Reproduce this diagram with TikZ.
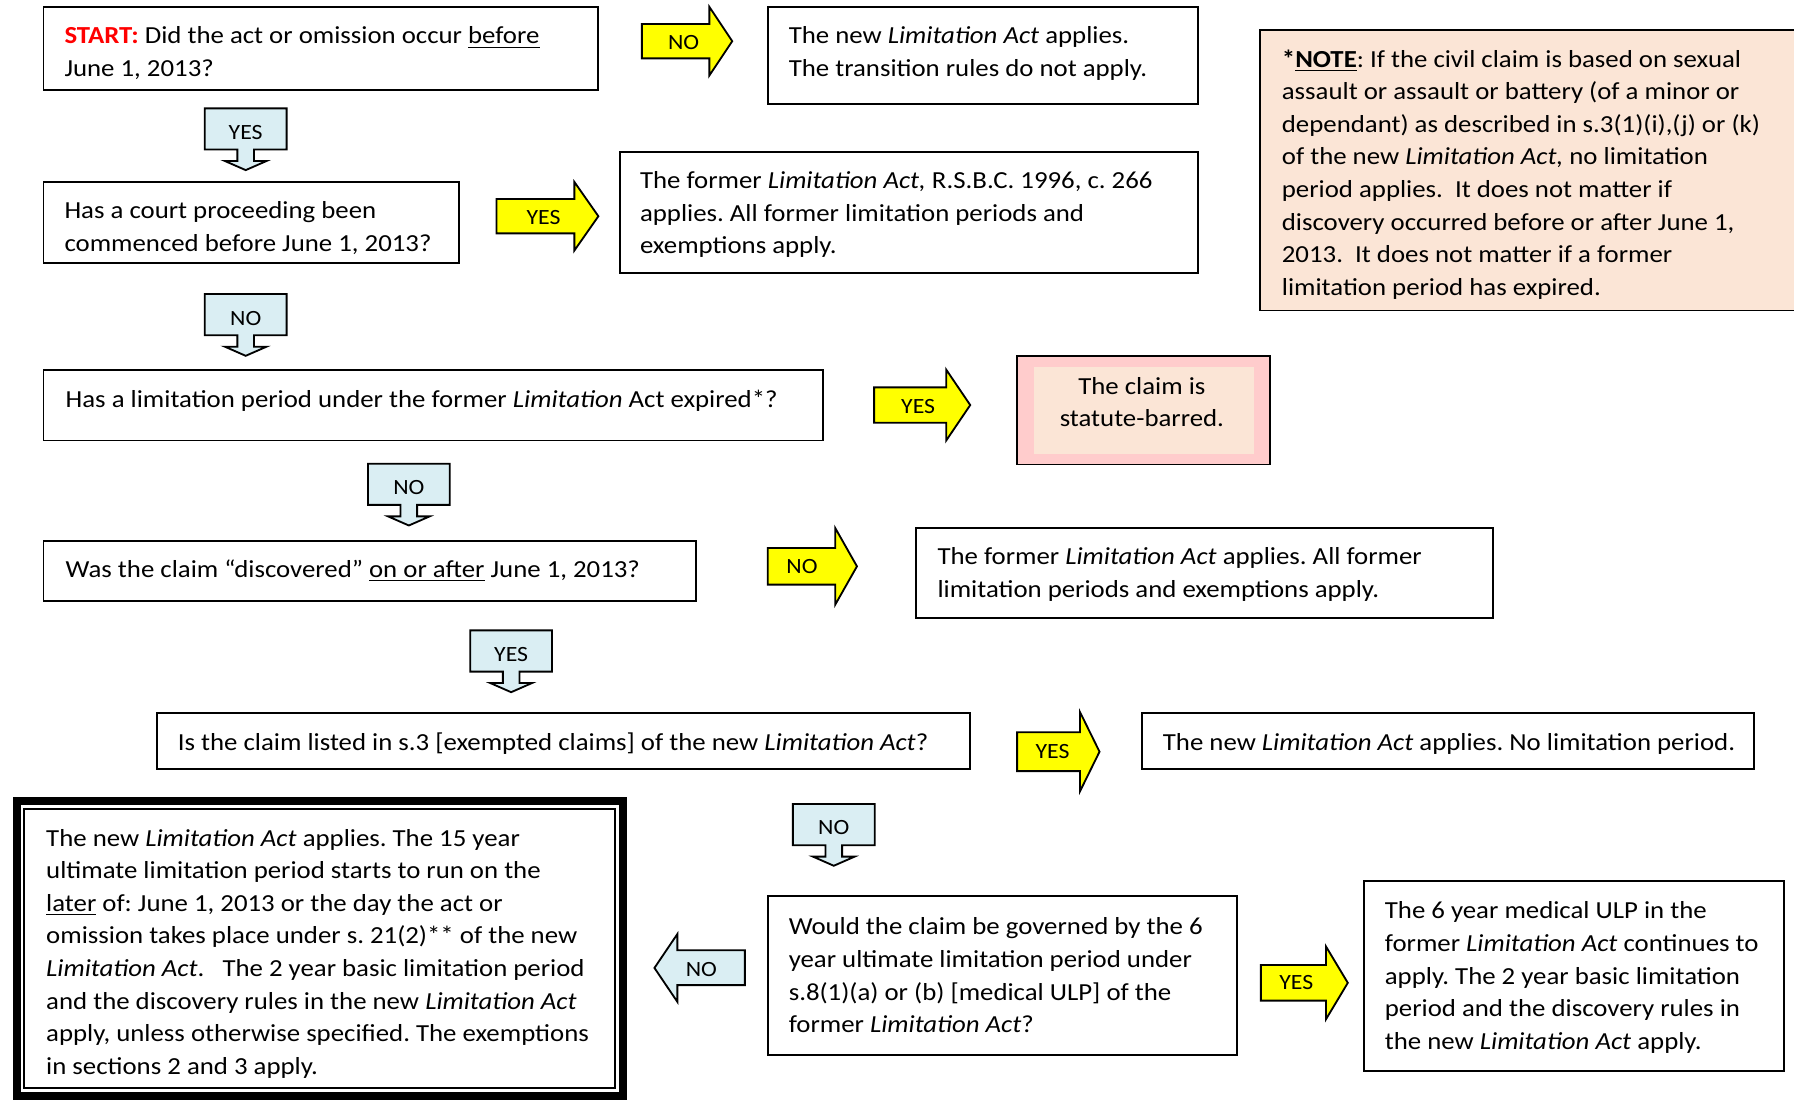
\documentclass[tikz,border=0pt]{standalone}
\usepackage{fontspec}
\setmainfont{Carlito}[FakeStretch=1.095]
\usetikzlibrary{positioning}
\definecolor{yel}{HTML}{FFFF00}
\definecolor{lblue}{HTML}{DAEEF3}
\definecolor{peach}{HTML}{FBE5D6}
\definecolor{pinkb}{HTML}{FFCCCC}
\definecolor{startred}{HTML}{FF0000}
\newcommand\mainf{\fontsize{10.7}{14.25}\selectfont}
\newcommand\lblf{\fontsize{9.5}{11}\selectfont}
\tikzset{
  box/.style={draw=black, line width=0.85pt, inner sep=0pt},
  txt/.style={font=\mainf, align=left, inner sep=0pt, anchor=west, yshift=-1pt},
  albl/.style={font=\lblf, inner sep=0pt},
  yarrow/.style={draw=black, line width=0.8pt, fill=yel, line join=miter},
  barrow/.style={draw=black, line width=0.8pt, fill=lblue, line join=miter}
}
% box by corners (displayed px)
\newcommand\mybx[6][]{\node[box,#1,minimum width={(#5-#3)*0.5pt},minimum height={(#6-#4)*0.5pt}] (#2) at ({(#3+#5)/2},{(#4+#6)/2}) {};}
% yellow right arrow: xl, xh, xt, ytop, ybot, head half height
\newcommand\myrarr[6]{\draw[yarrow] (#1,#4) -- (#2,#4) -- (#2,{(#4+#5)/2-#6}) -- (#3,{(#4+#5)/2}) -- (#2,{(#4+#5)/2+#6}) -- (#2,#5) -- (#1,#5) -- cycle;}
% blue down callout: name, x0, y0, label
\newcommand\mydarr[4]{%
  \draw[barrow] (#2,#3) -- ({#2+71.5},#3) -- ({#2+71.5},{#3+36}) -- ({#2+43},{#3+36}) -- ({#2+43},{#3+46}) -- ({#2+54},{#3+46}) -- ({#2+35.75},{#3+54}) -- ({#2+17.5},{#3+46}) -- ({#2+28.5},{#3+46}) -- ({#2+28.5},{#3+36}) -- (#2,{#3+36}) -- cycle;
  \node[albl] (#1) at ({#2+35.75},{#3+21}) {#4};}
\frenchspacing
\begin{document}
\begin{tikzpicture}[x=0.5pt,y=-0.5pt]
\useasboundingbox (0,0) rectangle (1568,961);

% ---------- note box (cut by right edge)
\node[fill=peach, inner sep=0pt, minimum width={(1568-1101.6)*0.5pt}, minimum height={(271-26.7)*0.5pt}] (note) at ({(1101.6+1568)/2},{(26.7+271)/2}) {};
\draw[line width=0.85pt] (note.north east) -- (note.north west) -- (note.south west) -- (note.south east);
\node[txt] (notet) at (1120,150.5) {{\bfseries *\underline{NOTE}}: If the civil claim is based on sexual\\
assault or assault or battery (of a minor or\\
dependant) as described in s.3(1)(i),(j) or (k)\\
of the new \textit{Limitation Act,} no limitation\\
period applies.\ \ It does not matter if\\
discovery occurred before or after June 1,\\
2013.\ \ It does not matter if a former\\
limitation period has expired.};

% ---------- boxes
\mybx{A}{38}{6}{523}{79}
\mybx{B}{671}{6}{1047}{91}
\mybx{C}{38}{159}{401}{230}
\mybx{D}{542}{133}{1047}{239}
\mybx{E}{38}{323}{719}{385}
\mybx{G}{38}{473}{608}{525}
\mybx{H}{801}{461.5}{1305}{540}
\mybx{I}{137}{623}{848}{672}
\mybx{J}{998.5}{623}{1533}{672}
\mybx{L}{671}{783}{1081}{922}
\mybx{M}{1192}{770}{1559}{936}
\mybx[fill=pinkb]{F}{889}{311}{1110}{406}
\node[fill=peach, inner sep=0pt, minimum width={(1096-904)*0.5pt}, minimum height={(396.5-320.5)*0.5pt}] (Fin) at ({(904+1096)/2},{(320.5+396.5)/2}) {};

% final box with thick-thin border
\draw[line width=3.5pt] (14.6,700.5) rectangle (544.3,957.5);
\node[draw, line width=0.9pt, inner sep=0pt, minimum width={(537.8-21.1)*0.5pt}, minimum height={(951-707)*0.5pt}] (K) at ({(21.1+537.8)/2},{(707+951)/2}) {};

% ---------- texts
\node[txt] (At) at (56,44.5) {{\color{startred}\bfseries START:} Did the act or omission occur \underline{before}\\June 1, 2013?};
\node[txt] (Bt) at (689,44.5) {The new \textit{Limitation Act} applies.\\The transition rules do not apply.};
\node[txt] (Ct) at (56,197.5) {Has a court proceeding been\\commenced before June 1, 2013?};
\node[txt] (Dt) at (559,185.5) {The former \textit{Limitation Act,} R.S.B.C. 1996, c. 266\\applies. All former limitation periods and\\exemptions apply.};
\node[txt] (Et) at (57,348) {Has a limitation period under the former \textit{Limitation} Act expired*?};
\node[txt, align=center, anchor=center] (Ft) at (998,349.5) {The claim is\\statute-barred.};
\node[txt] (Gt) at (57,497) {Was the claim “discovered” \underline{on or after} June 1, 2013?};
\node[txt] (Ht) at (819,500) {The former \textit{Limitation Act} applies. All former\\limitation periods and exemptions apply.};
\node[txt] (It) at (155,648) {Is the claim listed in s.3 [exempted claims] of the new \textit{Limitation Act}?};
\node[txt] (Jt) at (1016,648) {The new \textit{Limitation Act} applies. No limitation period.};
\node[txt] (Kt) at (40,831.5) {The new \textit{Limitation Act} applies. The 15 year\\
ultimate limitation period starts to run on the\\
\underline{later} of: June 1, 2013 or the day the act or\\
omission takes place under s. 21(2)** of the new\\
\textit{Limitation Act}.\ \ \ The 2 year basic limitation period\\
and the discovery rules in the new \textit{Limitation Act}\\
apply, unless otherwise specified. The exemptions\\
in sections 2 and 3 apply.};
\node[txt] (Lt) at (689,850.5) {Would the claim be governed by the 6\\
year ultimate limitation period under\\
s.8(1)(a) or (b) [medical ULP] of the\\
former \textit{Limitation Act}?};
\node[txt] (Mt) at (1210,852.5) {The 6 year medical ULP in the\\
former \textit{Limitation Act} continues to\\
apply. The 2 year basic limitation\\
period and the discovery rules in\\
the new \textit{Limitation Act} apply.};

% ---------- yellow right arrows
\myrarr{561}{620}{640}{21}{51}{30}
\node[albl] (y1) at (597.5,37) {NO};
\myrarr{434}{502}{523}{174}{204}{30}
\node[albl] (y2) at (475,190) {YES};
\myrarr{764}{827}{848}{338.6}{369.5}{31}
\node[albl] (y3) at (802.5,355) {YES};
\myrarr{671}{730}{749}{479}{511}{33.5}
\node[albl] (y4) at (701,495) {NO};
\myrarr{889}{944}{961}{640}{674}{34.5}
\node[albl] (y5) at (920,657) {YES};
\myrarr{1102}{1159}{1178}{843.5}{874.6}{31.7}
\node[albl] (y6) at (1133,859) {YES};

% ---------- blue down callouts
\mydarr{b1}{179}{94.7}{YES}
\mydarr{b2}{179}{257}{NO}
\mydarr{b3}{321.6}{405.3}{NO}
\mydarr{b4}{411}{551}{YES}
\mydarr{b5}{693}{702.7}{NO}

% ---------- blue left arrow
\draw[barrow] (651,830.6) -- (592,830.6) -- (592,816.4) -- (572,846) -- (592,875.6) -- (592,861) -- (651,861) -- cycle;
\node[albl] (b6) at (613,847) {NO};
\end{tikzpicture}
\end{document}
